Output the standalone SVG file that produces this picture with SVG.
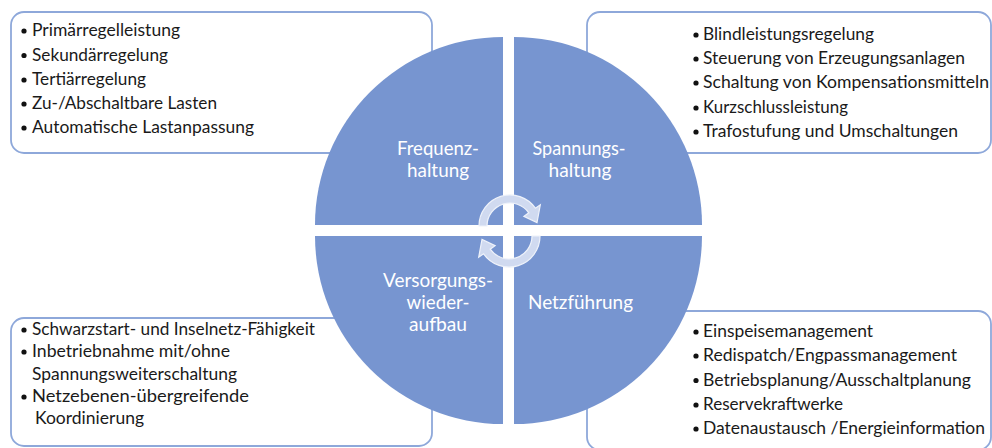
<svg xmlns="http://www.w3.org/2000/svg" width="992" height="448" viewBox="0 0 992 448">
  <style>
    .box { fill: #ffffff; stroke: #8EA8DA; stroke-width: 1.8; }
    .quad { fill: #7795D0; }
    .lbl { font-family: Lato, "Liberation Sans", sans-serif; font-size: 19px; fill: #ffffff; text-anchor: middle; }
    .item { font-family: Lato, "Liberation Sans", sans-serif; font-size: 17.5px; fill: #1a1a1a; }
    .dot { fill: #111111; }
    .cyc { fill: #D0DAF0; stroke: #EEF2FA; stroke-width: 1.2; }
  </style>

  <!-- Task boxes (drawn first, the circle overlaps their inner edges) -->
  <g id="box-frequenz">
    <rect class="box" x="11" y="12" width="421" height="141" rx="13"/>
    <circle class="dot" cx="24" cy="31" r="2.6"/>
    <text class="item" x="32" y="36" textLength="148" lengthAdjust="spacingAndGlyphs">Primärregelleistung</text>
    <circle class="dot" cx="24" cy="55.5" r="2.6"/>
    <text class="item" x="32" y="60.5" textLength="136" lengthAdjust="spacingAndGlyphs">Sekundärregelung</text>
    <circle class="dot" cx="24" cy="80" r="2.6"/>
    <text class="item" x="32" y="85" textLength="114" lengthAdjust="spacingAndGlyphs">Tertiärregelung</text>
    <circle class="dot" cx="24" cy="104" r="2.6"/>
    <text class="item" x="32" y="109" textLength="185" lengthAdjust="spacingAndGlyphs">Zu-/Abschaltbare  Lasten</text>
    <circle class="dot" cx="24" cy="128" r="2.6"/>
    <text class="item" x="32" y="133" textLength="222" lengthAdjust="spacingAndGlyphs">Automatische  Lastanpassung</text>
  </g>

  <g id="box-spannung">
    <rect class="box" x="587" y="12" width="404" height="141" rx="13"/>
    <circle class="dot" cx="696" cy="35" r="2.6"/>
    <text class="item" x="703" y="40" textLength="171" lengthAdjust="spacingAndGlyphs">Blindleistungsregelung</text>
    <circle class="dot" cx="696" cy="59" r="2.6"/>
    <text class="item" x="703" y="64" textLength="262" lengthAdjust="spacingAndGlyphs">Steuerung von Erzeugungsanlagen</text>
    <circle class="dot" cx="696" cy="83" r="2.6"/>
    <text class="item" x="703" y="88" textLength="286" lengthAdjust="spacingAndGlyphs">Schaltung von Kompensationsmitteln</text>
    <circle class="dot" cx="696" cy="108" r="2.6"/>
    <text class="item" x="703" y="113" textLength="145" lengthAdjust="spacingAndGlyphs">Kurzschlussleistung</text>
    <circle class="dot" cx="696" cy="132" r="2.6"/>
    <text class="item" x="703" y="137" textLength="255" lengthAdjust="spacingAndGlyphs">Trafostufung und Umschaltungen</text>
  </g>

  <g id="box-wiederaufbau">
    <rect class="box" x="11" y="318" width="421" height="128" rx="13"/>
    <circle class="dot" cx="24" cy="330" r="2.6"/>
    <text class="item" x="32" y="335" textLength="283" lengthAdjust="spacingAndGlyphs">Schwarzstart-  und Inselnetz-Fähigkeit</text>
    <circle class="dot" cx="24" cy="352" r="2.6"/>
    <text class="item" x="32" y="357" textLength="198" lengthAdjust="spacingAndGlyphs">Inbetriebnahme  mit/ohne</text>
    <text class="item" x="32" y="380" textLength="205" lengthAdjust="spacingAndGlyphs">Spannungsweiterschaltung</text>
    <circle class="dot" cx="24" cy="397" r="2.6"/>
    <text class="item" x="32" y="402" textLength="217" lengthAdjust="spacingAndGlyphs">Netzebenen-übergreifende</text>
    <text class="item" x="35" y="424" textLength="109" lengthAdjust="spacingAndGlyphs">Koordinierung</text>
  </g>

  <g id="box-netzfuehrung">
    <rect class="box" x="587" y="311" width="404" height="139" rx="13"/>
    <circle class="dot" cx="696" cy="332" r="2.6"/>
    <text class="item" x="703" y="337" textLength="170" lengthAdjust="spacingAndGlyphs">Einspeisemanagement</text>
    <circle class="dot" cx="696" cy="356" r="2.6"/>
    <text class="item" x="703" y="361" textLength="254" lengthAdjust="spacingAndGlyphs">Redispatch/Engpassmanagement</text>
    <circle class="dot" cx="696" cy="380.5" r="2.6"/>
    <text class="item" x="703" y="385.5" textLength="268" lengthAdjust="spacingAndGlyphs">Betriebsplanung/Ausschaltplanung</text>
    <circle class="dot" cx="696" cy="405" r="2.6"/>
    <text class="item" x="703" y="410" textLength="140" lengthAdjust="spacingAndGlyphs">Reservekraftwerke</text>
    <circle class="dot" cx="696" cy="429" r="2.6"/>
    <text class="item" x="703" y="434" textLength="282" lengthAdjust="spacingAndGlyphs">Datenaustausch  /Energieinformation</text>
  </g>

  <!-- Four quarter segments of the central circle -->
  <g id="seg-frequenz">
    <path class="quad" d="M503,225 L315,225 A188,188 0 0 1 503,37 Z"/>
    <text class="lbl" x="438" y="155" textLength="82" lengthAdjust="spacingAndGlyphs">Frequenz-</text>
    <text class="lbl" x="438" y="177" textLength="62" lengthAdjust="spacingAndGlyphs">haltung</text>
  </g>
  <g id="seg-spannung">
    <path class="quad" d="M514,225 L514,37 A188,188 0 0 1 702,225 Z"/>
    <text class="lbl" x="579" y="155" textLength="93" lengthAdjust="spacingAndGlyphs">Spannungs-</text>
    <text class="lbl" x="580" y="177" textLength="63" lengthAdjust="spacingAndGlyphs">haltung</text>
  </g>
  <g id="seg-netzfuehrung">
    <path class="quad" d="M514,236 L702,236 A188,188 0 0 1 514,424 Z"/>
    <text class="lbl" x="580.5" y="309" textLength="105" lengthAdjust="spacingAndGlyphs">Netzführung</text>
  </g>
  <g id="seg-wiederaufbau">
    <path class="quad" d="M503,236 L503,424 A188,188 0 0 1 315,236 Z"/>
    <text class="lbl" x="438" y="287" textLength="110" lengthAdjust="spacingAndGlyphs">Versorgungs-</text>
    <text class="lbl" x="438" y="309" textLength="63" lengthAdjust="spacingAndGlyphs">wieder-</text>
    <text class="lbl" x="438" y="331" textLength="58" lengthAdjust="spacingAndGlyphs">aufbau</text>
  </g>

  <!-- Cycle arrows around the centre -->
  <g id="connectors">
    <path class="cyc" d="M479,226 A31,31 0 0 1 535.4,208.2 L540.3,204.8 L537,222.5 L523.9,216.3 L528.8,212.8 A23,23 0 0 0 487,226 Z"/>
    <path class="cyc" d="M540,236 A31,31 0 0 1 483.6,253.8 L478.7,257.2 L482,239.5 L495.1,245.7 L490.2,249.2 A23,23 0 0 0 532,236 Z"/>
  </g>
</svg>
